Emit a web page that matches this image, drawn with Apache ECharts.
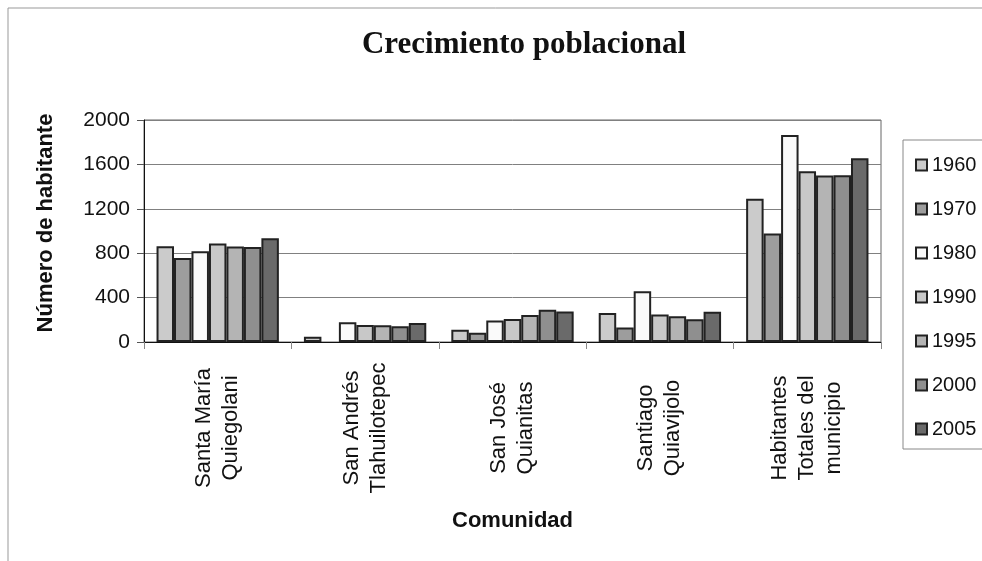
<!DOCTYPE html>
<html>
<head>
<meta charset="utf-8">
<script src="https://cdn.jsdelivr.net/npm/echarts@6/dist/echarts.min.js"></script>
<style>
  html, body { margin: 0; padding: 0; background: #fff; }
  #chart { width: 982px; height: 561px; }
</style>
</head>
<body>
<div id="chart"></div>
<script>
// comunidades
var categorias = ['Santa María\nQuiegolani', 'San Andrés\nTlahuilotepec', 'San José\nQuianitas', 'Santiago\nQuiavijolo', 'Habitantes\nTotales del\nmunicipio'];
var anios = ['1960', '1970', '1980', '1990', '1995', '2000', '2005'];
var colores = ['#cbcbcb', '#9d9d9d', '#fafafa', '#c8c8c8', '#b4b4b4', '#8f8f8f', '#6a6a6a'];

// habitantes por año (una lista por año)
var v1960 = [862, 48, 111, 262, 1291];
var v1970 = [757, null, 84, 130, 977];
var v1980 = [817, 177, 193, 458, 1864];
var v1990 = [887, 154, 208, 247, 1538];
var v1995 = [860, 152, 244, 232, 1499];
var v2000 = [856, 141, 290, 205, 1502];
var v2005 = [935, 172, 274, 272, 1656];
var valores = [v1960, v1970, v1980, v1990, v1995, v2000, v2005];

var yTicks = [0, 400, 800, 1200, 1600, 2000];

var series = anios.map(function (a, i) {
  return {
    name: a,
    type: 'bar',
    data: valores[i],
    barGap: '0%',
    barCategoryGap: '17%',
    itemStyle: { color: colores[i], borderColor: '#222', borderWidth: 2 }
  };
});

var myChart = echarts.init(document.getElementById('chart'));
myChart.setOption({
  animation: false,
  textStyle: { fontFamily: 'Liberation Sans' },
  graphic: [
    {
      type: 'rect',
      shape: { x: 8, y: 8, width: 1000, height: 600 },
      style: { fill: 'none', stroke: '#999', lineWidth: 1 },
      silent: true
    },
    {
      type: 'text',
      x: 524,
      y: 29,
      style: {
        text: 'Crecimiento poblacional',
        fontFamily: 'Liberation Serif',
        fontWeight: 'bold',
        fontSize: 31,
        fill: '#111',
        textAlign: 'center',
        textVerticalAlign: 'top'
      }
    }
  ],
  grid: { left: 144, right: 101, top: 120, bottom: 219, show: true, borderColor: '#666', borderWidth: 1 },
  legend: {
    orient: 'vertical',
    left: 903,
    top: 140,
    padding: [15, 12, 10, 12],
    itemGap: 24,
    itemWidth: 11,
    itemHeight: 11,
    icon: 'rect',
    borderColor: '#888',
    borderWidth: 1,
    textStyle: { fontSize: 20, color: '#111', fontFamily: 'Liberation Sans' },
    data: anios
  },
  xAxis: {
    type: 'category',
    data: categorias,
    name: 'Comunidad',
    nameLocation: 'middle',
    nameGap: 168,
    nameTextStyle: { fontSize: 22, fontWeight: 'bold', color: '#111' },
    axisLine: { lineStyle: { color: '#111', width: 1 } },
    axisTick: { show: true, length: 7, lineStyle: { color: '#888' } },
    axisLabel: {
      interval: 0,
      rotate: 90,
      align: 'center',
      verticalAlign: 'middle',
      margin: 86,
      fontSize: 22,
      lineHeight: 27,
      color: '#111'
    }
  },
  yAxis: {
    type: 'value',
    min: yTicks[0],
    max: yTicks[yTicks.length - 1],
    interval: 400,
    name: 'Número de habitante',
    nameLocation: 'middle',
    nameGap: 87,
    nameTextStyle: { fontSize: 22, fontWeight: 'bold', color: '#111', padding: [0, 0, 0, 16] },
    axisLine: { show: true, lineStyle: { color: '#111', width: 1 } },
    axisTick: { show: true, length: 7, lineStyle: { color: '#555' } },
    axisLabel: {
      fontSize: 21,
      color: '#111',
      margin: 14,
      formatter: function (v) { return String(v); }
    },
    splitLine: { lineStyle: { color: '#808080', width: 1 } }
  },
  series: series
});
window.addEventListener('resize', function () {
  myChart.resize();
});
</script>
</body>
</html>
